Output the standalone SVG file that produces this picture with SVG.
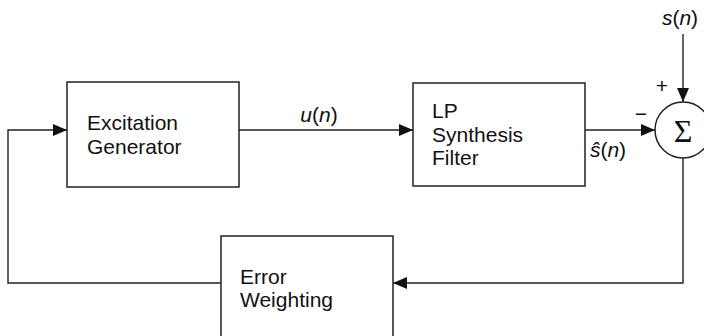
<svg xmlns="http://www.w3.org/2000/svg" width="704" height="336" viewBox="0 0 704 336">
<defs>
<marker id="ah" viewBox="0 0 14 12" refX="14" refY="6" markerWidth="14" markerHeight="12" markerUnits="userSpaceOnUse" orient="auto">
<path d="M0,0 L14,6 L0,12 Z" fill="#111"/>
</marker>
<style>
.box{fill:#fff;stroke:#222;stroke-width:1.5}
.ln{fill:none;stroke:#222;stroke-width:1.4}
.t{font-family:"Liberation Sans",Arial,sans-serif;font-size:21px;fill:#111}
.i{font-style:italic}
</style>
</defs>
<rect width="704" height="336" fill="#fff"/>
<g id="connectors">
<path class="ln" d="M683,34 V102" marker-end="url(#ah)"/>
<path class="ln" d="M239,130 H413" marker-end="url(#ah)"/>
<path class="ln" d="M585,130 H655" marker-end="url(#ah)"/>
<path class="ln" d="M683,158 V283 H393" marker-end="url(#ah)"/>
<path class="ln" d="M221,283 H8 V130 H67" marker-end="url(#ah)"/>
</g>
<g id="excitation">
<rect class="box" x="67" y="82" width="172" height="105"/>
<text class="t" x="87" y="130">Excitation</text>
<text class="t" x="87" y="154">Generator</text>
</g>
<g id="lpfilter">
<rect class="box" x="413" y="83" width="172" height="103"/>
<text class="t" x="432" y="118">LP</text>
<text class="t" x="432" y="142">Synthesis</text>
<text class="t" x="432" y="165">Filter</text>
</g>
<g id="sum">
<circle class="box" cx="683" cy="130" r="28"/>
<text x="683" y="142" text-anchor="middle" font-family="'Liberation Serif','Times New Roman',serif" font-size="32" fill="#111">Σ</text>
</g>
<g id="errorweighting">
<rect class="box" x="221" y="236" width="172" height="120"/>
<text class="t" x="240" y="284">Error</text>
<text class="t" x="240" y="307">Weighting</text>
</g>
<g id="labels">
<text class="t" x="319" y="122" text-anchor="middle"><tspan class="i">u</tspan>(<tspan class="i">n</tspan>)</text>
<text class="t" x="680" y="25" text-anchor="middle"><tspan class="i">s</tspan>(<tspan class="i">n</tspan>)</text>
<text class="t" x="608" y="157" text-anchor="middle"><tspan class="i">ŝ</tspan>(<tspan class="i">n</tspan>)</text>
<text class="t" x="662" y="93" text-anchor="middle" font-size="17">+</text>
<text class="t" x="641" y="121" text-anchor="middle" font-size="17">−</text>
</g>
</svg>
